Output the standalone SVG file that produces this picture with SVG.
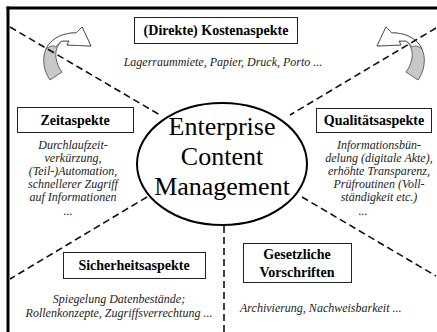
<svg xmlns="http://www.w3.org/2000/svg" width="437" height="332" viewBox="0 0 437 332" font-family="Liberation Serif, serif">
<defs>
<style>
.frame{stroke:#000;stroke-width:3;fill:none}
.dash{stroke:#111;stroke-width:1.6;stroke-dasharray:7 4;fill:none}
.box{fill:#fff;stroke:#222;stroke-width:1}
.title{font-weight:bold;font-size:14px;fill:#000;text-anchor:middle}
.desc{font-style:italic;font-size:12px;fill:#222;text-anchor:middle}
.ecm{font-size:26px;fill:#000;text-anchor:middle}
.arrGray{fill:#c8c8c8;stroke:#444;stroke-width:0.8}
.arrWhite{fill:#fff;stroke:#444;stroke-width:0.8}
</style>
<g id="curvedArrow">
<path class="arrGray" d="M50,80 C43,70 42,58 46,49 C50,40 60,34 72,33 L76,33 L82,27 L91,46 L67,45 L69,41 L62,41 C57,45 55,52 56,58 C57,64 59,68 62,72 Z"/>
<path class="arrWhite" d="M46,49 C50,40 60,34 72,33 L76,33 L82,27 L91,46 L67,45 L69,41 L62,41 C59,43 57,45 56,47 C53,45 50,46 46,49 Z"/>
</g>
</defs>
<rect width="437" height="332" fill="#fff"/>
<g id="frame">
<line class="frame" x1="6.5" y1="8" x2="437" y2="8"/>
<line class="frame" x1="8" y1="6.5" x2="8" y2="332"/>
</g>
<g id="arrows">
<use href="#curvedArrow"/>
<use href="#curvedArrow" transform="translate(468,0) scale(-1,1)"/>
</g>
<g id="connectors">
<line class="dash" x1="10" y1="27" x2="160" y2="115"/>
<line class="dash" x1="436" y1="28" x2="290" y2="115"/>
<line class="dash" x1="147" y1="197" x2="10" y2="279"/>
<line class="dash" x1="302" y1="197" x2="436" y2="276"/>
<line class="dash" x1="224" y1="226" x2="224" y2="332"/>
</g>
<g id="ecm">
<ellipse cx="222" cy="164" rx="85" ry="61" fill="#fff" stroke="#000" stroke-width="2"/>
<text class="ecm" font-family="Liberation Serif" x="222" y="135">Enterprise</text>
<text class="ecm" font-family="Liberation Serif" x="222" y="165">Content</text>
<text class="ecm" font-family="Liberation Serif" x="222" y="195">Management</text>
</g>
<g id="kosten">
<rect class="box" x="134.5" y="17.5" width="163" height="26"/>
<text class="title" font-family="Liberation Serif" x="216" y="35">(Direkte) Kostenaspekte</text>
<text class="desc" font-family="Liberation Serif" x="223" y="66">Lagerraummiete, Papier, Druck, Porto ...</text>
</g>
<g id="zeit">
<rect class="box" x="17.5" y="107.5" width="116" height="25"/>
<text class="title" font-family="Liberation Serif" x="75" y="125">Zeitaspekte</text>
<text class="desc" font-family="Liberation Serif" x="73" y="149">Durchlaufzeit-</text>
<text class="desc" font-family="Liberation Serif" x="73" y="162">verkürzung,</text>
<text class="desc" font-family="Liberation Serif" x="73" y="175">(Teil-)Automation,</text>
<text class="desc" font-family="Liberation Serif" x="73" y="188">schnellerer Zugriff</text>
<text class="desc" font-family="Liberation Serif" x="73" y="201">auf Informationen</text>
<text class="desc" font-family="Liberation Serif" x="68" y="215">...</text>
</g>
<g id="qualitaet">
<rect class="box" x="316.5" y="108.5" width="115" height="24"/>
<text class="title" font-family="Liberation Serif" x="374" y="125">Qualitätsaspekte</text>
<text class="desc" font-family="Liberation Serif" x="379" y="149">Informationsbün-</text>
<text class="desc" font-family="Liberation Serif" x="379" y="162">delung (digitale Akte),</text>
<text class="desc" font-family="Liberation Serif" x="379" y="175">erhöhte Transparenz,</text>
<text class="desc" font-family="Liberation Serif" x="379" y="188">Prüfroutinen (Voll-</text>
<text class="desc" font-family="Liberation Serif" x="379" y="201">ständigkeit etc.)</text>
<text class="desc" font-family="Liberation Serif" x="363" y="215">...</text>
</g>
<g id="sicherheit">
<rect class="box" x="63.5" y="252.5" width="142" height="26"/>
<text class="title" font-family="Liberation Serif" x="134" y="270">Sicherheitsaspekte</text>
<text class="desc" font-family="Liberation Serif" x="119" y="303">Spiegelung Datenbestände;</text>
<text class="desc" font-family="Liberation Serif" x="119" y="317">Rollenkonzepte, Zugriffsverrechtung ...</text>
</g>
<g id="gesetz">
<rect class="box" x="243.5" y="243.5" width="108" height="39"/>
<text class="title" font-family="Liberation Serif" x="297" y="259">Gesetzliche</text>
<text class="title" font-family="Liberation Serif" x="297" y="277">Vorschriften</text>
<text class="desc" font-family="Liberation Serif" x="240" y="312" text-anchor="start" style="text-anchor:start">Archivierung, Nachweisbarkeit ...</text>
</g>
</svg>
